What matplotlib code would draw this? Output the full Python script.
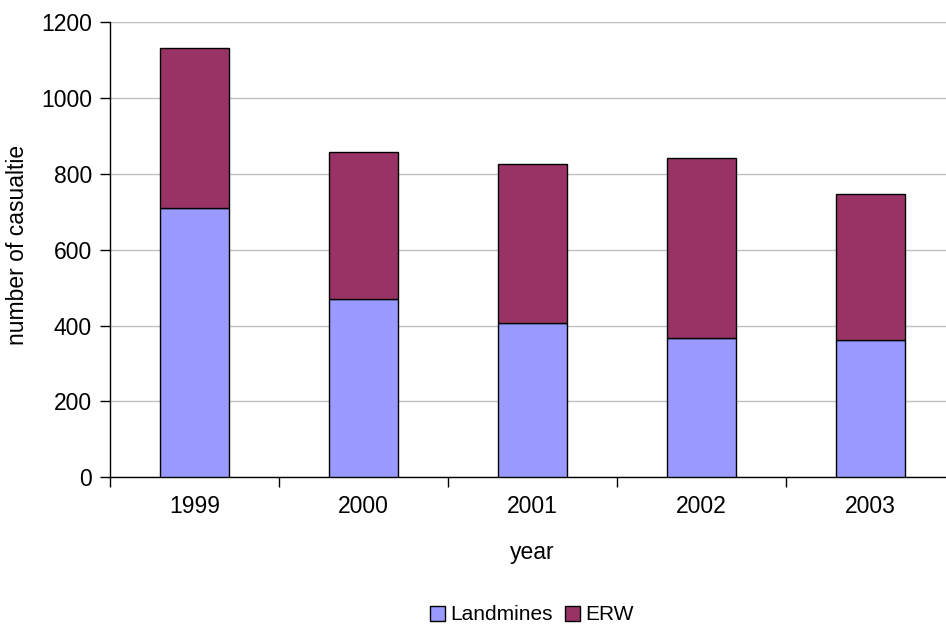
import matplotlib.pyplot as plt
from matplotlib.transforms import Bbox
import numpy as np

years = ['1999', '2000', '2001', '2002', '2003']
landmines = [709, 470, 406, 368, 363]
erw_total = [1131, 857, 826, 841, 747]
erw = [t - l for t, l in zip(erw_total, landmines)]

plt.rcParams['font.family'] = ['Liberation Sans', 'DejaVu Sans']
fs = 16.5

fig = plt.figure(figsize=(9.46, 6.26), dpi=100)
ax = fig.add_axes([0.1163, 0.2375, 0.8932, 0.7269])

x = np.arange(len(years))
w = 0.414
ax.bar(x, landmines, w, color='#9999FF', edgecolor='black', linewidth=1, label='Landmines', zorder=3)
ax.bar(x, erw, w, bottom=landmines, color='#993366', edgecolor='black', linewidth=1, label='ERW', zorder=3)

ax.set_xlim(-0.5, len(years) - 0.5)
ax.set_ylim(0, 1200)
ax.set_yticks(range(0, 1201, 200))
ax.yaxis.grid(True, color='#c0c0c0', linewidth=1)
ax.set_axisbelow(True)

# category labels at centres, tick marks between categories
ax.set_xticks(x)
ax.set_xticklabels(years)
ax.set_xticks(np.arange(-0.5, len(years), 1), minor=True)
ax.tick_params(axis='x', which='major', length=0, pad=13, labelsize=fs)
ax.tick_params(axis='x', which='minor', length=7, width=1, direction='out')
ax.tick_params(axis='y', length=7, width=1, direction='out', pad=6, labelsize=fs)

for s in ['top', 'right']:
    ax.spines[s].set_visible(False)
ax.spines['left'].set_linewidth(1)
ax.spines['bottom'].set_linewidth(1)

ax.set_xlabel('year', fontsize=fs, labelpad=16)

# y label, cut off at the top of its box
yl = fig.text(18 / 946, 1 - 345 / 626, 'number of casualties', rotation=90,
              fontsize=fs, ha='center', va='bottom')
yl.set_clip_on(True)
yl.set_clip_box(Bbox.from_extents(0, 0, 60, 626 - 146))

ax.legend(loc='center', bbox_to_anchor=(532 / 946, 1 - 615 / 626), bbox_transform=fig.transFigure,
          ncol=2, frameon=False, fontsize=15, handlelength=0.7, handleheight=0.7,
          handletextpad=0.25, columnspacing=0.6, borderpad=0.2)

fig.savefig('out.png', dpi=100)
